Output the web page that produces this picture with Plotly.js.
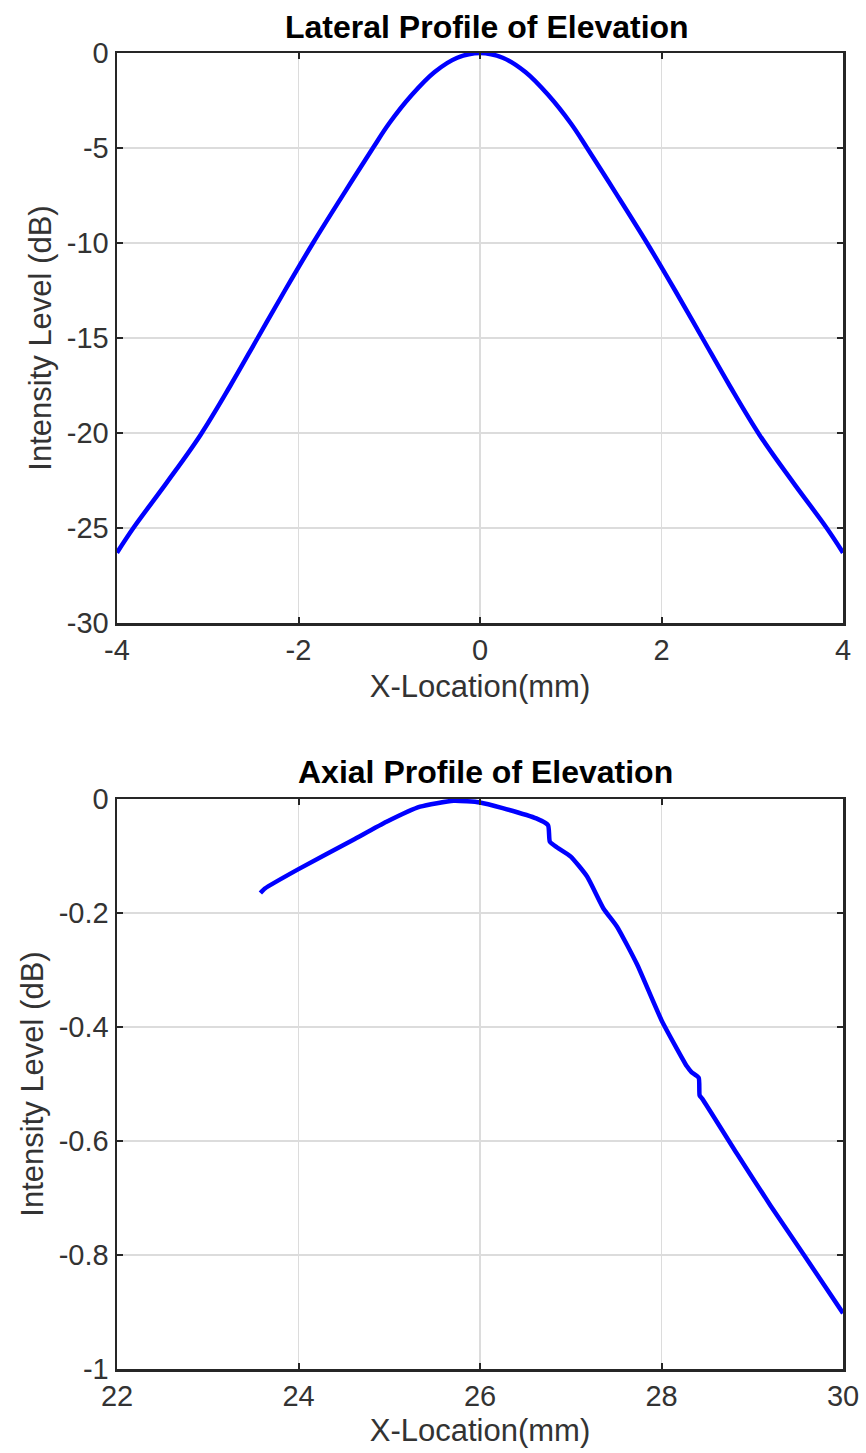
<!DOCTYPE html>
<html>
<head>
<meta charset="utf-8">
<script src="https://cdn.plot.ly/plotly-3.0.1.min.js"></script>
<style>html,body{margin:0;padding:0;background:#fff;}#chart{width:866px;height:1453px;}</style>
</head>
<body>
<div id="chart"></div>
<script>
// Lateral profile data (mm, dB)
const lateralX = [-4, -3.82, -3.45, -3.08, -2.75, -2.45, -2.15, -1.84, -1.5, -1.18, -1, -0.75, -0.5, -0.25, 0,
                  0.25, 0.5, 0.75, 1, 1.18, 1.5, 1.84, 2.15, 2.45, 2.75, 3.08, 3.45, 3.82, 4];
const lateralY = [-26.3, -25, -22.6, -20.1, -17.5, -15, -12.5, -10, -7.4, -5, -3.7, -2.2, -1.0, -0.25, 0,
                  -0.25, -1.0, -2.2, -3.7, -5, -7.4, -10, -12.5, -15, -17.5, -20.1, -22.6, -25, -26.3];

// Axial profile data (mm, dB)
const axialX = [23.58, 23.63, 24.0, 24.6, 24.97, 25.34, 25.71, 26.0, 26.25, 26.62, 26.75, 26.77, 26.85, 27.0,
                27.18, 27.36, 27.51, 27.73, 28.0, 28.28, 28.33, 28.41, 28.42, 28.45, 28.83, 29.2, 29.57, 30.0];
const axialY = [-0.165, -0.157, -0.123, -0.072, -0.040, -0.0135, -0.003, -0.006, -0.016, -0.034, -0.046, -0.075, -0.085, -0.101,
                -0.136, -0.192, -0.224, -0.29, -0.388, -0.469, -0.479, -0.489, -0.52, -0.526, -0.622, -0.713, -0.80, -0.902];

// Tick labels
const latXTicks = [-4, -2, 0, 2, 4];
const latXText = ['-4', '-2', '0', '2', '4'];
const latYTicks = [-30, -25, -20, -15, -10, -5, 0];
const latYText = ['-30', '-25', '-20', '-15', '-10', '-5', '0'];
const axXTicks = [22, 24, 26, 28, 30];
const axXText = ['22', '24', '26', '28', '30'];
const axYTicks = [-1, -0.8, -0.6, -0.4, -0.2, 0];
const axYText = ['-1', '-0.8', '-0.6', '-0.4', '-0.2', '0'];

const titles = ['Lateral Profile of Elevation', 'Axial Profile of Elevation'];
const xLabel = 'X-Location(mm)';
const yLabel = 'Intensity Level (dB)';

const FONT = 'Liberation Sans, Arial, Helvetica, sans-serif';
const AX = '#262626';
const W = 866, H = 1453;

function axisCommon(extra) {
  return Object.assign({
    showline: true, linecolor: AX, linewidth: 2.5, mirror: 'ticks',
    ticks: 'inside', ticklen: 6, tickwidth: 2, tickcolor: AX,
    showgrid: true, gridcolor: '#dcdcdc', gridwidth: 1.5,
    zeroline: false, tickmode: 'array',
    tickfont: {family: FONT, size: 29, color: '#333'},
    automargin: false
  }, extra);
}

const traces = [
  {x: lateralX, y: lateralY, xaxis: 'x', yaxis: 'y', mode: 'lines', line: {color: '#0000ff', width: 4.5, shape: 'spline', smoothing: 1}, hoverinfo: 'skip'},
  {x: axialX, y: axialY, xaxis: 'x2', yaxis: 'y2', mode: 'lines', line: {color: '#0000ff', width: 4.5, shape: 'spline', smoothing: 0.5}, hoverinfo: 'skip'}
];

const topDom = [1 - 623 / H, 1 - 53 / H];
const botDom = [1 - 1369 / H, 1 - 799 / H];
const xDom = [117 / W, 843 / W];

const labFont = {family: FONT, size: 31, color: '#333'};

const layout = {
  width: W, height: H,
  margin: {l: 0, r: 0, t: 0, b: 0},
  paper_bgcolor: '#fff', plot_bgcolor: '#fff',
  showlegend: false,
  xaxis: axisCommon({domain: xDom, anchor: 'y', range: [-4, 4], tickvals: latXTicks, ticktext: latXText,
    title: {text: xLabel, font: labFont, standoff: 10}}),
  yaxis: axisCommon({domain: topDom, anchor: 'x', range: [-30, 0], tickvals: latYTicks, ticktext: latYText,
    title: {text: yLabel, font: labFont, standoff: 6}}),
  xaxis2: axisCommon({domain: xDom, anchor: 'y2', range: [22, 30], tickvals: axXTicks, ticktext: axXText,
    title: {text: xLabel, font: labFont, standoff: 8}}),
  yaxis2: axisCommon({domain: botDom, anchor: 'x2', range: [-1, 0], tickvals: axYTicks, ticktext: axYText,
    title: {text: yLabel, font: labFont, standoff: 6}}),
  annotations: [
    {text: '<b>' + titles[0] + '</b>', xref: 'paper', yref: 'paper', x: 487 / W, y: 1 - 27 / H,
     xanchor: 'center', yanchor: 'middle', showarrow: false, font: {family: FONT, size: 32, color: '#000'}},
    {text: '<b>' + titles[1] + '</b>', xref: 'paper', yref: 'paper', x: 485 / W, y: 1 - 772 / H,
     xanchor: 'center', yanchor: 'middle', showarrow: false, font: {family: FONT, size: 32, color: '#000'}}
  ]
};

Plotly.newPlot('chart', traces, layout, {displayModeBar: false, staticPlot: true});
</script>
</body>
</html>
